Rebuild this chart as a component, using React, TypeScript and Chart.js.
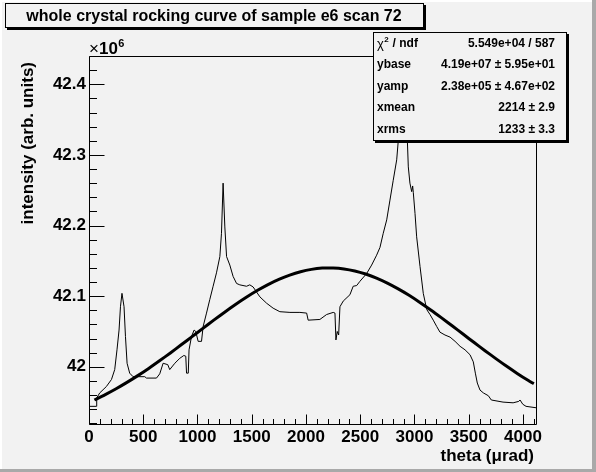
import { useEffect, useRef } from "react";
import { Chart, registerables } from "chart.js";

Chart.register(...registerables);

// ---- data (intensity in units of 10^6) ----
const thetaHist = [
  0, 68, 71, 99, 160, 207, 237, 258, 277, 290,
  304, 323, 336, 351, 375, 406, 514, 530, 622, 652,
  683, 726, 744, 791, 837, 874, 892, 899, 915, 922,
  945, 969, 984, 1006, 1037, 1052, 1083, 1113, 1144, 1175,
  1206, 1221, 1236, 1252, 1268, 1298, 1328, 1360, 1390, 1452,
  1482, 1513, 1575, 1637, 1697, 1759, 1852, 1944, 2006, 2020,
  2128, 2190, 2251, 2267, 2276, 2288, 2301, 2313, 2343, 2405,
  2435, 2467, 2497, 2559, 2605, 2651, 2682, 2712, 2744, 2774,
  2804, 2836, 2851, 2873, 2894, 2912, 2934, 2943, 2958, 2974,
  2983, 2989, 3005, 3020, 3051, 3081, 3113, 3143, 3173, 3205,
  3235, 3281, 3328, 3374, 3420, 3466, 3512, 3542, 3561, 3579,
  3604, 3635, 3681, 3708, 3816, 3909, 3961, 3973, 3998, 4028,
  4120,
];
const intensityHist = [
  41.944, 41.944, 41.956, 41.963, 41.972, 41.982, 41.996, 42.024, 42.052, 42.085,
  42.104, 42.085, 42.043, 42.005, 41.991, 41.986, 41.986, 41.984, 41.984, 41.99,
  42.005, 42.003, 41.996, 42.005, 42.012, 42.016, 42.015, 41.991, 41.991, 42.024,
  42.043, 42.052, 42.05, 42.036, 42.036, 42.057, 42.076, 42.095, 42.114, 42.133,
  42.156, 42.189, 42.26, 42.198, 42.156, 42.144, 42.128, 42.118, 42.116, 42.114,
  42.116, 42.113, 42.099, 42.09, 42.083, 42.078, 42.077, 42.077, 42.076, 42.066,
  42.067, 42.074, 42.077, 42.076, 42.038, 42.05, 42.045, 42.085, 42.093, 42.102,
  42.114, 42.115, 42.121, 42.132, 42.144, 42.158, 42.169, 42.189, 42.208, 42.236,
  42.264, 42.293, 42.321, 42.345, 42.4, 42.39, 42.322, 42.283, 42.26, 42.248,
  42.256, 42.247, 42.217, 42.184, 42.142, 42.104, 42.081, 42.074, 42.066, 42.057,
  42.049, 42.045, 42.042, 42.036, 42.029, 42.024, 42.017, 42.007, 41.991, 41.977,
  41.967, 41.963, 41.959, 41.953, 41.95, 41.949, 41.951, 41.953, 41.947, 41.944,
  41.942,
];
const thetaFit = [
  50, 150, 250, 350, 450, 550, 650, 750, 850, 950,
  1050, 1150, 1250, 1350, 1450, 1550, 1650, 1750, 1850, 1950,
  2050, 2150, 2250, 2350, 2450, 2550, 2650, 2750, 2850, 2950,
  3050, 3150, 3250, 3350, 3450, 3550, 3650, 3750, 3850, 3950,
  4050, 4100,
];
const intensityFit = [
  41.953, 41.9606, 41.9689, 41.9779, 41.9875, 41.9977, 42.0085, 42.0196, 42.0311, 42.0427,
  42.0544, 42.066, 42.0773, 42.0882, 42.0984, 42.1079, 42.1164, 42.1237, 42.1298, 42.1346,
  42.1379, 42.1397, 42.1399, 42.1386, 42.1357, 42.1313, 42.1256, 42.1185, 42.1103, 42.1012,
  42.0911, 42.0804, 42.0692, 42.0577, 42.046, 42.0343, 42.0228, 42.0116, 42.0007, 41.9903,
  41.9805, 41.9759,
];

const xTickValues = [0, 500, 1000, 1500, 2000, 2500, 3000, 3500, 4000];
const yTickValues = [42.0, 42.1, 42.2, 42.3, 42.4];
const yTickLabels = ["42", "42.1", "42.2", "42.3", "42.4"];

const titleText = "whole crystal rocking curve of sample e6 scan 72";
const xTitle = "theta (\u03bcrad)";
const yTitle = "intensity (arb. units)";
const statNames = ["ndf", "ybase", "yamp", "xmean", "xrms"];
const statValues = [
  "5.549e+04 / 587",
  "4.19e+07 \u00b1 5.95e+01",
  "2.38e+05 \u00b1 4.67e+02",
  "2214 \u00b1 2.9",
  "1233 \u00b1 3.3",
];

const X_MIN = 0;
const X_MAX = 4120;
const Y_MIN = 41.919;
const Y_MAX = 42.44;
const X_MAJOR = 500;
const X_MINOR = 100;

const BG = "#f2f2f2";
const FONT = "'Liberation Sans', Arial, Helvetica, sans-serif";

const W = 596;
const H = 472;

const rootPlugin = {
  id: "rootStyle",
  beforeDraw(chart: any) {
    const ctx = chart.ctx as CanvasRenderingContext2D;
    ctx.save();
    ctx.fillStyle = BG;
    ctx.fillRect(0, 0, W, H);
    ctx.fillStyle = "#ffffff";
    ctx.fillRect(0, 0, W, 2);
    ctx.fillRect(0, 0, 2, H);
    ctx.fillStyle = "#a9a9a9";
    ctx.fillRect(W - 4, 0, 4, H);
    ctx.fillRect(0, H - 3, W, 3);
    ctx.restore();
  },
  afterDraw(chart: any) {
    const ctx = chart.ctx as CanvasRenderingContext2D;
    const a = chart.chartArea;
    const xs = chart.scales.x;
    const ys = chart.scales.y;
    ctx.save();
    ctx.strokeStyle = "#000";
    ctx.fillStyle = "#000";
    ctx.lineWidth = 1;

    // frame
    const L = Math.round(a.left) + 0.5;
    const T = Math.round(a.top) + 0.5;
    const R = Math.round(a.right) + 0.5;
    const B = Math.round(a.bottom) + 0.5;
    ctx.beginPath();
    ctx.rect(L, T, R - L, B - T);
    ctx.stroke();

    // x ticks (inside, pointing up)
    ctx.beginPath();
    for (let v = X_MIN; v <= X_MAX; v += X_MINOR) {
      const px = Math.round(xs.getPixelForValue(v)) + 0.5;
      const len = v % X_MAJOR === 0 ? 10 : 5.5;
      ctx.moveTo(px, B);
      ctx.lineTo(px, B - len);
    }
    ctx.stroke();

    // y ticks (inside, pointing right)
    ctx.beginPath();
    for (let i = 0; i <= 26; i++) {
      const v = 41.92 + i * 0.02;
      const py = Math.round(ys.getPixelForValue(v)) + 0.5;
      const len = i % 5 === 4 ? 15 : 7.5;
      ctx.moveTo(L, py);
      ctx.lineTo(L + len, py);
    }
    ctx.stroke();

    // x10^6
    ctx.textBaseline = "alphabetic";
    ctx.textAlign = "left";
    ctx.font = `17px ${FONT}`;
    let cx = Math.round(a.left);
    ctx.fillText("\u00d7", cx, 54);
    cx += ctx.measureText("\u00d7").width;
    ctx.font = `bold 17px ${FONT}`;
    ctx.fillText("10", cx, 54);
    cx += ctx.measureText("10").width;
    ctx.font = `bold 11px ${FONT}`;
    ctx.fillText("6", cx + 0.5, 47);

    // axis titles
    ctx.font = `bold 17px ${FONT}`;
    ctx.textAlign = "right";
    ctx.fillText(xTitle, 534, 461);
    ctx.save();
    ctx.translate(33, 62);
    ctx.rotate(-Math.PI / 2);
    ctx.textAlign = "right";
    ctx.fillText(yTitle, 0, 0);
    ctx.restore();

    // title box
    const tx = 5, ty = 3, tw = 418, th = 24;
    ctx.fillStyle = "#000";
    ctx.fillRect(tx + 2, ty + 2, tw + 1, th + 1);
    ctx.fillStyle = BG;
    ctx.fillRect(tx, ty, tw, th);
    ctx.strokeStyle = "#000";
    ctx.strokeRect(tx + 0.5, ty + 0.5, tw, th);
    ctx.fillStyle = "#000";
    ctx.font = `bold 16px ${FONT}`;
    ctx.textAlign = "center";
    ctx.fillText(titleText, tx + tw / 2, 21);

    // stats box
    const bx = 373, by = 32, bw = 193, bh = 108;
    ctx.fillStyle = "#000";
    ctx.fillRect(bx + 2, by + 2, bw + 1, bh + 1);
    ctx.fillStyle = BG;
    ctx.fillRect(bx, by, bw, bh);
    ctx.strokeRect(bx + 0.5, by + 0.5, bw, bh);
    ctx.fillStyle = "#000";
    ctx.textBaseline = "middle";
    const rowH = bh / statNames.length;
    statNames.forEach((name, i) => {
      const y = by + rowH * (i + 0.5) + 0.5;
      ctx.textAlign = "left";
      if (i === 0) {
        let sx = 377;
        ctx.font = `13px ${FONT}`;
        ctx.fillText("\u03c7", sx, y + 1);
        sx += ctx.measureText("\u03c7").width;
        ctx.font = `bold 8px ${FONT}`;
        ctx.fillText("2", sx + 0.5, y - 4);
        sx += ctx.measureText("2").width + 1;
        ctx.font = `bold 12px ${FONT}`;
        ctx.fillText(" / " + name, sx, y);
      } else {
        ctx.font = `bold 12px ${FONT}`;
        ctx.fillText(name, 377, y);
      }
      ctx.textAlign = "right";
      ctx.font = `bold 12px ${FONT}`;
      ctx.fillText(statValues[i], 555, y);
    });

    ctx.restore();
  },
};

export default function App() {
  const ref = useRef<HTMLCanvasElement | null>(null);

  useEffect(() => {
    if (!ref.current) return;
    const histData = thetaHist.map((x, i) => ({ x, y: intensityHist[i] }));
    const fitData = thetaFit.map((x, i) => ({ x, y: intensityFit[i] }));
    const chart = new Chart(ref.current, {
      type: "line",
      data: {
        datasets: [
          {
            label: "histogram",
            data: histData,
            borderColor: "#000",
            borderWidth: 1,
            pointRadius: 0,
            tension: 0,
            fill: false,
          },
          {
            label: "fit",
            data: fitData,
            borderColor: "#000",
            borderWidth: 3,
            pointRadius: 0,
            tension: 0.3,
            fill: false,
          },
        ],
      },
      options: {
        animation: false,
        responsive: false,
        devicePixelRatio: 1,
        events: [],
        layout: { padding: { left: 0, top: 56, right: 60, bottom: 0 } },
        plugins: {
          legend: { display: false },
          tooltip: { enabled: false },
          title: { display: false },
        },
        scales: {
          x: {
            type: "linear",
            min: X_MIN,
            max: X_MAX,
            grid: { display: false, drawTicks: false },
            border: { display: false },
            afterBuildTicks: (s: any) => {
              s.ticks = xTickValues.map((value) => ({ value }));
            },
            ticks: {
              padding: 3,
              color: "#000",
              maxRotation: 0,
              autoSkip: false,
              font: { family: FONT, size: 17, weight: "bold" },
              callback: (v: any) => String(v),
            },
            afterFit: (s: any) => {
              s.height = 48;
            },
          },
          y: {
            type: "linear",
            min: Y_MIN,
            max: Y_MAX,
            grid: { display: false, drawTicks: false },
            border: { display: false },
            afterBuildTicks: (s: any) => {
              s.ticks = yTickValues.map((value) => ({ value }));
            },
            ticks: {
              padding: 3,
              color: "#000",
              autoSkip: false,
              font: { family: FONT, size: 17, weight: "bold" },
              callback: (v: any) => {
                const idx = yTickValues.findIndex((t) => Math.abs(t - Number(v)) < 1e-6);
                return idx >= 0 ? yTickLabels[idx] : "";
              },
            },
            afterFit: (s: any) => {
              s.width = 89;
            },
          },
        },
      },
      plugins: [rootPlugin],
    });
    return () => chart.destroy();
  }, []);

  return (
    <div style={{ position: "fixed", left: 0, top: 0, width: W, height: H }}>
      <canvas ref={ref} width={W} height={H} style={{ width: W, height: H, display: "block" }} />
    </div>
  );
}
